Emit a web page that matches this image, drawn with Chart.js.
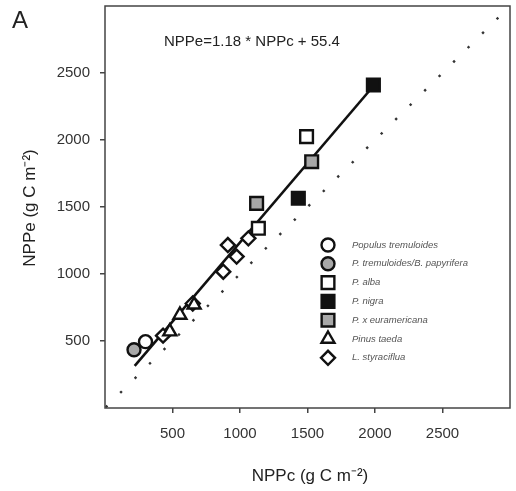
<!DOCTYPE html>
<html>
<head>
<meta charset="utf-8">
<script src="https://cdn.jsdelivr.net/npm/chart.js@4.4.1/dist/chart.umd.min.js"></script>
<style>
  html, body { margin: 0; padding: 0; background: #fff; }
  #wrap { width: 516px; height: 491px; position: relative; }
</style>
</head>
<body>
<div id="wrap"><canvas id="c"></canvas></div>
<script>
// values (g C m-2)
const tickValues = [500, 1000, 1500, 2000, 2500];
const speciesNames = ["Populus tremuloides", "P. tremuloides/B. papyrifera", "P. alba", "P. nigra", "P. x euramericana", "Pinus taeda", "L. styraciflua"];

const tremuloides = [{ x: 300, y: 495 }];
const tremPapy = [{ x: 215, y: 435 }];
const alba = [{ x: 1136, y: 1341 }, { x: 1493, y: 2025 }];
const nigra = [{ x: 1432, y: 1565 }, { x: 1988, y: 2410 }];
const euramericana = [{ x: 1123, y: 1527 }, { x: 1531, y: 1838 }];
const taeda = [{ x: 480, y: 570 }, { x: 555, y: 694 }, { x: 660, y: 770 }];
const styraciflua = [{ x: 430, y: 540 }, { x: 650, y: 780 }, { x: 876, y: 1017 }, { x: 910, y: 1216 }, { x: 975, y: 1130 }, { x: 1062, y: 1266 }];

const fitLine = [{ x: 220, y: 315 }, { x: 1990, y: 2405 }];
const oneToOne = [{ x: 0, y: 0 }, { x: 3000, y: 3000 }];

const INK = "#111";
const GRAY = "#a8a8a8";

const markerStyles = [
  { pointStyle: "circle", r: 6.5, fill: "#fff" },
  { pointStyle: "circle", r: 6.5, fill: GRAY },
  { pointStyle: "rect", r: 9, fill: "#fff" },
  { pointStyle: "rect", r: 9, fill: INK },
  { pointStyle: "rect", r: 9, fill: GRAY },
  { pointStyle: "triangle", r: 7.5, fill: "#fff" },
  { pointStyle: "rectRot", r: 7, fill: "#fff" },
];
const seriesData = [tremuloides, tremPapy, alba, nigra, euramericana, taeda, styraciflua];

const scatterSets = seriesData.map((d, i) => ({
  type: "scatter",
  label: speciesNames[i],
  data: d,
  pointStyle: markerStyles[i].pointStyle,
  pointRadius: markerStyles[i].r,
  pointBackgroundColor: markerStyles[i].fill,
  pointBorderColor: INK,
  pointBorderWidth: 2.4,
  order: 1,
}));

const frameAndText = {
  id: "frameAndText",
  afterDraw(chart) {
    const { ctx, chartArea: a } = chart;
    ctx.save();
    ctx.strokeStyle = "#444";
    ctx.lineWidth = 1.5;
    ctx.strokeRect(a.left, a.top, a.right - a.left, a.bottom - a.top);

    ctx.fillStyle = "#222";
    ctx.font = "24px Arial, 'Liberation Sans', sans-serif";
    ctx.textAlign = "left";
    ctx.textBaseline = "alphabetic";
    ctx.fillText("A", 12, 28);

    ctx.font = "15px Arial, 'Liberation Sans', sans-serif";
    ctx.fillText("NPPe=1.18 * NPPc + 55.4", 164, 46);

    // axis titles
    ctx.font = "17px Arial, 'Liberation Sans', sans-serif";
    ctx.textAlign = "center";
    ctx.textBaseline = "middle";
    ctx.fillText("NPPc (g C m\u207B\u00B2)", 310, 476);
    ctx.save();
    ctx.translate(30, 208);
    ctx.rotate(-Math.PI / 2);
    ctx.fillText("NPPe (g C m\u207B\u00B2)", 0, 0);
    ctx.restore();

    // legend
    ctx.font = "italic 9.5px Arial, 'Liberation Sans', sans-serif";
    ctx.textAlign = "left";
    speciesNames.forEach((name, i) => {
      const y = 245 + i * 18.8;
      const m = markerStyles[i];
      ctx.fillStyle = m.fill;
      ctx.strokeStyle = INK;
      ctx.lineWidth = 2.4;
      Chart.helpers.drawPoint(ctx, { pointStyle: m.pointStyle, radius: m.r, rotation: 0, borderWidth: 2.4 }, 328, y);
      ctx.fillStyle = "#555";
      ctx.fillText(name, 352, y);
    });
    ctx.restore();
  },
};

const onlyTicks = (scale) => { scale.ticks = tickValues.map((v) => ({ value: v })); };
const noPad = (s) => { s.paddingTop = 0; s.paddingBottom = 0; s.paddingLeft = 0; s.paddingRight = 0; };
const tickFont = { family: "Arial, 'Liberation Sans', sans-serif", size: 15 };

new Chart(document.getElementById("c"), {
  type: "scatter",
  data: {
    datasets: [
      { type: "line", label: "1:1", data: oneToOne, borderColor: "#333", borderWidth: 2.4, borderDash: [2.4, 18], borderDashOffset: -1, pointRadius: 0, order: 3 },
      { type: "line", label: "fit", data: fitLine, borderColor: INK, borderWidth: 2.6, pointRadius: 0, order: 2 },
      ...scatterSets,
    ],
  },
  options: {
    responsive: true,
    maintainAspectRatio: false,
    animation: false,
    layout: { autoPadding: false, padding: { left: 0, right: 6, top: 6, bottom: 0 } },
    plugins: { legend: { display: false }, tooltip: { enabled: false } },
    scales: {
      x: {
        type: "linear", min: 0, max: 3000,
        afterBuildTicks: onlyTicks,
        afterFit: (s) => { s.height = 83; noPad(s); },
        grid: { drawOnChartArea: false, drawTicks: true, tickLength: 5, color: "#444", lineWidth: 1.5 },
        border: { display: false },
        ticks: { color: "#333", font: tickFont, padding: 12, maxRotation: 0, callback: (v) => String(v) },
      },
      y: {
        type: "linear", min: 0, max: 3000,
        afterBuildTicks: onlyTicks,
        afterFit: (s) => { s.width = 105; noPad(s); },
        grid: { drawOnChartArea: false, drawTicks: true, tickLength: 5, color: "#444", lineWidth: 1.5 },
        border: { display: false },
        ticks: { color: "#333", font: tickFont, padding: 10, callback: (v) => String(v) },
      },
    },
  },
  plugins: [frameAndText],
});
</script>
</body>
</html>
